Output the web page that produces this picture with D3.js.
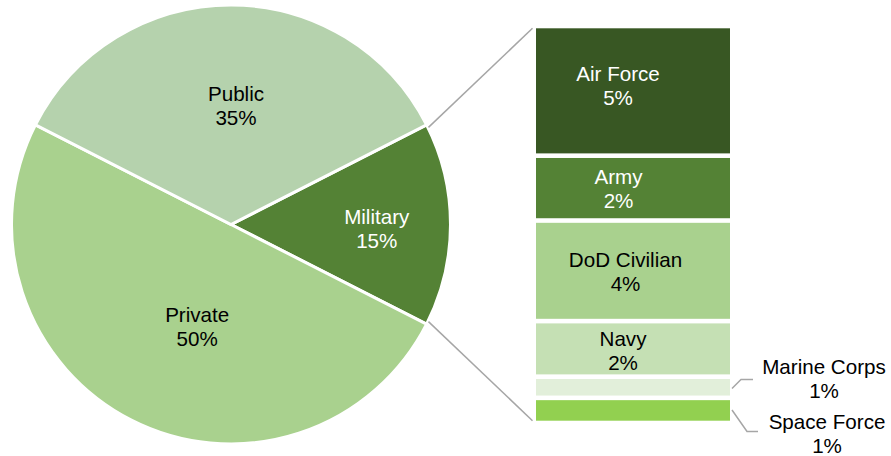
<!DOCTYPE html>
<html>
<head>
<meta charset="utf-8">
<script src="https://cdn.jsdelivr.net/npm/d3@7"></script>
<style>
  body { margin: 0; background: #fff; }
  text { font-family: "Liberation Sans", Arial, sans-serif; font-size: 20.6px; }
</style>
</head>
<body>
<div id="chart"></div>
<script>
// pie slices (percent)
const pieNames = ["Military", "Private", "Public"];
const pieValues = [15, 50, 35];
const pieColors = ["#548235", "#a9d18e", "#b5d2ad"];
const pieTextColors = ["#fff", "#000", "#000"];

// breakdown of the Military slice (percent)
const barNames = ["Air Force", "Army", "DoD Civilian", "Navy", "Marine Corps", "Space Force"];
const barValues = [4.9, 2.45, 3.8, 2.1, 0.8, 0.95];
const barColors = ["#385723", "#548235", "#a9d18e", "#c5e0b4", "#e2efda", "#92d050"];
const barTextColors = ["#fff", "#fff", "#000", "#000", "#000", "#000"];

const width = 891;
const height = 456;
const cx = 231, cy = 224.5, r = 219.5;

const svg = d3.select("#chart")
  .append("svg")
  .attr("width", width)
  .attr("height", height);

// ---- pie ----
const pie = d3.pie()
  .sort(null)
  .value(d => d)
  .startAngle(Math.PI / 2 - Math.PI * pieValues[0] / 100)
  .endAngle(Math.PI / 2 - Math.PI * pieValues[0] / 100 + 2 * Math.PI);

const arcs = pie(pieValues);
const arc = d3.arc().innerRadius(0).outerRadius(r);

const pieG = svg.append("g").attr("transform", `translate(${cx},${cy})`);

pieG.selectAll("path")
  .data(arcs)
  .enter()
  .append("path")
  .attr("d", arc)
  .attr("fill", (d, i) => pieColors[i])
  .attr("stroke", "#fff")
  .attr("stroke-width", 3);

// label nudges off the centroid
const pieNudge = [[36, 4], [16, 4], [5, -9.5]];

const pieLabels = pieG.selectAll("text.pl")
  .data(arcs)
  .enter()
  .append("text")
  .attr("class", "pl")
  .attr("text-anchor", "middle")
  .attr("fill", (d, i) => pieTextColors[i])
  .attr("transform", (d, i) => {
    const c = arc.centroid(d);
    return `translate(${c[0] + pieNudge[i][0]},${c[1] + pieNudge[i][1]})`;
  });
pieLabels.append("tspan").attr("x", 0).attr("dy", -4.5).text((d, i) => pieNames[i]);
pieLabels.append("tspan").attr("x", 0).attr("dy", 24).text(d => d.value + "%");

// ---- stacked bar ----
let acc = 0;
const stacked = barValues.map((v, i) => {
  const s = { name: barNames[i], value: v, y0: acc, y1: acc + v, i: i };
  acc += v;
  return s;
});

const y = d3.scaleLinear().domain([0, acc]).range([26, 423]);
const x = d3.scaleBand().domain(["Military"]).range([536, 730]);
const gap = 4.6;

svg.selectAll("rect.bar")
  .data(stacked)
  .enter()
  .append("rect")
  .attr("class", "bar")
  .attr("x", x("Military"))
  .attr("width", x.bandwidth())
  .attr("y", d => y(d.y0) + gap / 2)
  .attr("height", d => y(d.y1) - y(d.y0) - gap)
  .attr("fill", d => barColors[d.i]);

// connector lines from pie to bar
const a0 = arcs[0].startAngle, a1 = arcs[0].endAngle;
const pr = r + 1;
svg.append("line")
  .attr("x1", cx + pr * Math.sin(a0) + 1).attr("y1", cy - pr * Math.cos(a0) + 3)
  .attr("x2", x("Military") - 3.5).attr("y2", y(0) + gap / 2)
  .attr("stroke", "#a6a6a6").attr("stroke-width", 1.5);
svg.append("line")
  .attr("x1", cx + pr * Math.sin(a1) + 1).attr("y1", cy - pr * Math.cos(a1) - 3)
  .attr("x2", x("Military") - 3.5).attr("y2", y(acc) - gap / 2)
  .attr("stroke", "#a6a6a6").attr("stroke-width", 1.5);

// labels inside the bars (first four), outside for the thin ones
const barNudge = [[-15, -5], [-14.5, 0], [-7.5, 1], [-10, 1.5]];
const outLabels = [
  { i: 4, x: 824, y: 378.8, leader: [[732, 388.5], [741, 379.5], [753, 379.5]] },
  { i: 5, x: 827, y: 433, leader: [[732, 410], [747, 431.5], [758, 431.5]] }
];

const inside = stacked.filter(d => d.i < 4);
const inLabels = svg.selectAll("text.bl")
  .data(inside)
  .enter()
  .append("text")
  .attr("class", "bl")
  .attr("text-anchor", "middle")
  .attr("fill", d => barTextColors[d.i])
  .attr("transform", d => {
    const mx = x("Military") + x.bandwidth() / 2 + barNudge[d.i][0];
    const my = (y(d.y0) + y(d.y1)) / 2 + barNudge[d.i][1];
    return `translate(${mx},${my})`;
  });
inLabels.append("tspan").attr("x", 0).attr("dy", -4.5).text(d => d.name);
inLabels.append("tspan").attr("x", 0).attr("dy", 24).text(d => Math.round(d.value) + "%");

outLabels.forEach(o => {
  const d = stacked[o.i];
  svg.append("path")
    .attr("d", d3.line()(o.leader))
    .attr("fill", "none")
    .attr("stroke", "#a6a6a6")
    .attr("stroke-width", 1.5);
  const t = svg.append("text")
    .attr("text-anchor", "middle")
    .attr("fill", barTextColors[o.i])
    .attr("transform", `translate(${o.x},${o.y})`);
  t.append("tspan").attr("x", 0).attr("dy", -4.5).text(d.name);
  t.append("tspan").attr("x", 0).attr("dy", 24).text(Math.round(d.value) + "%");
});
</script>
</body>
</html>
